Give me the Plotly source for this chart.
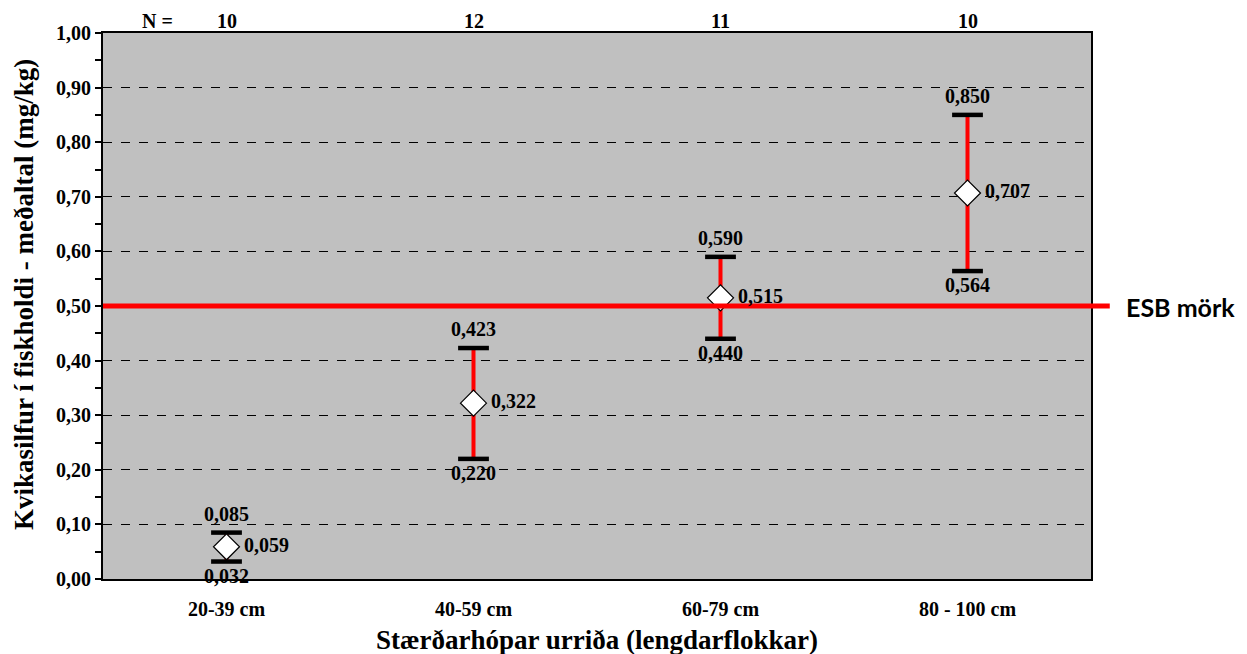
import plotly.graph_objects as go

categories = ["20-39 cm", "40-59 cm", "60-79 cm", "80 - 100 cm"]
n_counts = [10, 12, 11, 10]
means = [0.059, 0.322, 0.515, 0.707]
lows = [0.032, 0.220, 0.440, 0.564]
highs = [0.085, 0.423, 0.590, 0.850]
limit_value = 0.50
limit_label = "ESB mörk"
y_ticks = [0.0, 0.1, 0.2, 0.3, 0.4, 0.5, 0.6, 0.7, 0.8, 0.9, 1.0]
x_title = "Stærðarhópar urriða (lengdarflokkar)"
y_title = "Kvikasilfur í fiskholdi - meðaltal (mg/kg)"

xs = list(range(len(categories)))
SERIF = "Liberation Serif, Times New Roman, serif"
LBL = 20

def fmt(v):
    return f"<b>{v:.3f}</b>".replace(".", ",")

fig = go.Figure()

# red error bars
fig.add_trace(go.Scatter(
    x=xs, y=means, mode="markers",
    marker=dict(size=1, color="rgba(0,0,0,0)"),
    error_y=dict(type="data", symmetric=False,
                 array=[h - m for h, m in zip(highs, means)],
                 arrayminus=[m - l for m, l in zip(means, lows)],
                 color="#FF0000", thickness=4, width=0),
    hoverinfo="skip", showlegend=False))

# black caps
fig.add_trace(go.Scatter(
    x=xs + xs, y=highs + lows, mode="markers",
    marker=dict(symbol="line-ew", size=22, line=dict(width=4.5, color="black")),
    hoverinfo="skip", showlegend=False))

# mean diamonds
fig.add_trace(go.Scatter(
    x=xs, y=means, mode="markers",
    marker=dict(symbol="diamond", size=20, color="white",
                line=dict(width=1.2, color="black")),
    hoverinfo="skip", showlegend=False))

annotations = []
lf = dict(family=SERIF, size=LBL, color="black")
for x, m, lo, hi in zip(xs, means, lows, highs):
    annotations.append(dict(x=x, y=hi, text=fmt(hi), showarrow=False,
                            yanchor="bottom", yshift=6, font=lf))
    annotations.append(dict(x=x, y=lo, text=fmt(lo), showarrow=False,
                            yanchor="top", yshift=-1, font=lf))
    annotations.append(dict(x=x, y=m, text=fmt(m), showarrow=False,
                            xanchor="left", xshift=15, yshift=2, font=lf))

for x, n in zip(xs, n_counts):
    annotations.append(dict(x=x, y=1.0, yref="paper", text=f"<b>{n}</b>", showarrow=False,
                            yanchor="bottom", yshift=-1, font=lf))
annotations.append(dict(x=0.037, xref="paper", y=1.0, yref="paper", text="<b>N =</b>",
                        showarrow=False, yanchor="bottom", yshift=-1, font=lf))
annotations.append(dict(x=1.033, xref="paper", y=limit_value, yref="y",
                        text=f"<b>{limit_label}</b>", showarrow=False, xanchor="left",
                        yshift=-1,
                        font=dict(family="Lato, Open Sans, sans-serif", size=25, color="black")))
# axis titles
annotations.append(dict(x=0.5, xref="paper", y=0, yref="paper", yanchor="middle",
                        yshift=-61, text=f"<b>{x_title}</b>", showarrow=False,
                        font=dict(family=SERIF, size=27, color="black")))
annotations.append(dict(x=0, xref="paper", xshift=-79, y=0.52, yref="paper",
                        textangle=-90, xanchor="center", yanchor="middle",
                        text=f"<b>{y_title}</b>", showarrow=False,
                        font=dict(family=SERIF, size=27, color="black")))

shapes = [
    dict(type="line", xref="paper", x0=0, x1=1.019, yref="y", y0=limit_value, y1=limit_value,
         line=dict(color="#FF0000", width=5), layer="above"),
]

fig.update_layout(
    width=1239, height=646,
    margin=dict(l=95, r=156, t=25, b=75),
    paper_bgcolor="white", plot_bgcolor="#C0C0C0",
    separators=",.",
    font=dict(family=SERIF, size=LBL, color="black"),
    annotations=annotations, shapes=shapes,
    showlegend=False,
)
fig.update_xaxes(
    range=[-0.5, 3.5], tickmode="array", tickvals=xs,
    ticktext=[f"<b>{c}</b>" for c in categories],
    showgrid=False, zeroline=False, showline=True, linecolor="black", linewidth=2,
    mirror=True, ticks="", ticklabelstandoff=11, automargin=False,
    tickfont=dict(family=SERIF, size=LBL),
)
fig.update_yaxes(
    range=[0, 1.0], tickmode="array", tickvals=y_ticks,
    ticktext=[f"<b>{v:.2f}</b>".replace(".", ",") for v in y_ticks],
    showgrid=True, gridcolor="black", gridwidth=1, griddash="dash",
    zeroline=False, showline=True, linecolor="black", linewidth=2, mirror=True,
    ticks="outside", ticklen=6, tickcolor="black", tickwidth=1.5,
    minor=dict(dtick=0.05, tick0=0, ticks="outside", ticklen=6, tickcolor="black",
               tickwidth=1.5, showgrid=False),
    automargin=False,
    tickfont=dict(family=SERIF, size=LBL),
)

fig.write_html("out.html")
